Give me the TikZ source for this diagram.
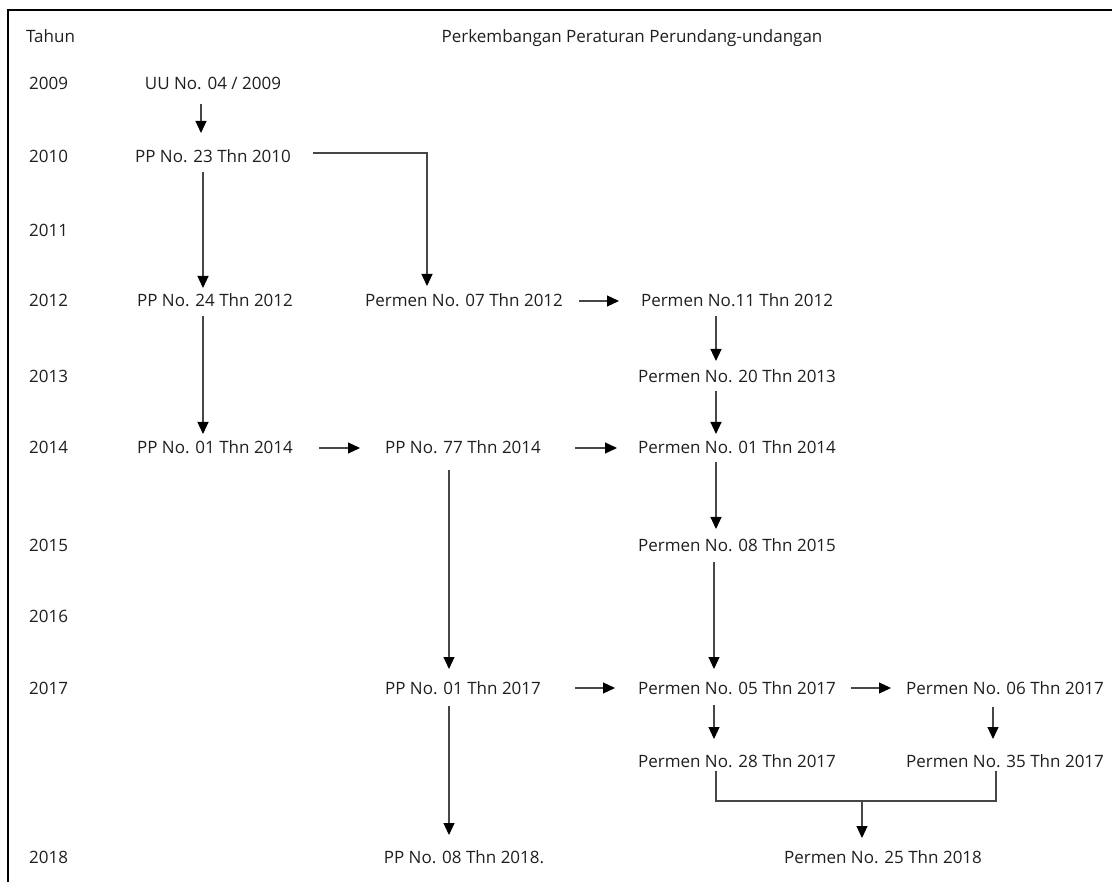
\documentclass[tikz,border=0pt]{standalone}
\usepackage{fontspec}
\setmainfont{Open Sans}
\usetikzlibrary{arrows.meta,calc}
\begin{document}
\begin{tikzpicture}[x=1pt,y=-1pt,
  txt/.style={inner sep=0pt,text height=12pt,text depth=0pt,text=black!88,font=\fontsize{17}{20}\selectfont},
  yr/.style={txt,anchor=west},
  ln/.style={draw=black!72,line width=1.2pt},
  arr/.style={ln,-{Triangle[length=12pt,width=11pt,color=black]}},
  frame/.style={draw=black,line width=1.8pt}]
\useasboundingbox (0,0) rectangle (1112,882);
\coordinate (fTL) at (8,10);
\coordinate (fTR) at (1112,10);
\coordinate (fBL) at (8,882);
\draw[frame] (fBL) -- (fTL) -- (fTR);

% header
\node[yr] (tahun) at (26,37) {Tahun};
\node[txt] (head) at (632,37) {Perkembangan Peraturan Perundang-undangan};

% years
\node[yr] (y09) at (29,84) {2009};
\node[yr] (y10) at (29,157) {2010};
\node[yr] (y11) at (29,231) {2011};
\node[yr] (y12) at (29,301) {2012};
\node[yr] (y13) at (29,377) {2013};
\node[yr] (y14) at (29,448) {2014};
\node[yr] (y15) at (29,545) {2015};
\node[yr] (y16) at (29,616) {2016};
\node[yr] (y17) at (29,688) {2017};
\node[yr] (y18) at (29,857) {2018};

% column 1
\node[txt] (uu) at (213,84) {UU No. 04 / 2009};
\node[txt] (pp23) at (213,157) {PP No. 23 Thn 2010};
\node[txt] (pp24) at (215,301) {PP No. 24 Thn 2012};
\node[txt] (pp14) at (215,448) {PP No. 01 Thn 2014};
% column 2
\node[txt] (p07) at (464,301) {Permen No. 07 Thn 2012};
\node[txt] (pp77) at (463,448) {PP No. 77 Thn 2014};
\node[txt] (pp17) at (463,688) {PP No. 01 Thn 2017};
\node[txt] (pp18) at (464,857) {PP No. 08 Thn 2018.};
% column 3
\node[txt] (p11) at (737,301) {Permen No.11 Thn 2012};
\node[txt] (p20) at (737,377) {Permen No. 20 Thn 2013};
\node[txt] (pm14) at (737,448) {Permen No. 01 Thn 2014};
\node[txt] (p08) at (737,545) {Permen No. 08 Thn 2015};
\node[txt] (p05) at (737,688) {Permen No. 05 Thn 2017};
\node[txt] (p28) at (737,761) {Permen No. 28 Thn 2017};
% column 4
\node[txt] (p06) at (1005,688) {Permen No. 06 Thn 2017};
\node[txt] (p35) at (1005,761) {Permen No. 35 Thn 2017};
% bottom
\node[txt] (p25) at (883,857) {Permen No. 25 Thn 2018};

% connectors
\draw[arr] ($(uu)+(-12,20)$) -- ($(pp23)+(-12,-24)$);
\draw[arr] ($(pp23)+(-10,15)$) -- ($(pp24)+(-12,-13)$);
\draw[arr] ($(pp23)+(100,-4)$) -| ($(p07)+(-37,-15)$);
\draw[arr] ($(pp24)+(-12,15)$) -- ($(pp14)+(-12,-14)$);
\draw[arr] ($(p07)+(115,0)$) -- ($(p11)+(-118,0)$);
\draw[arr] ($(p11)+(-21,15)$) -- ($(p20)+(-21,-16)$);
\draw[arr] ($(p20)+(-21,14)$) -- ($(pm14)+(-21,-14)$);
\draw[arr] ($(pp14)+(104,0)$) -- ($(pp77)+(-103,0)$);
\draw[arr] ($(pp77)+(112,0)$) -- ($(pm14)+(-120,0)$);
\draw[arr] ($(pp77)+(-14,22)$) -- ($(pp17)+(-14,-19)$);
\draw[arr] ($(pm14)+(-21,14)$) -- ($(p08)+(-21,-16)$);
\draw[arr] ($(p08)+(-23,17)$) -- ($(p05)+(-23,-19)$);
\draw[arr] ($(pp17)+(112,0)$) -- ($(p05)+(-122,0)$);
\draw[arr] ($(p05)+(114,0)$) -- ($(p06)+(-114,0)$);
\draw[arr] ($(p05)+(-23,17)$) -- ($(p28)+(-23,-22)$);
\draw[arr] ($(p06)+(-12,19)$) -- ($(p35)+(-12,-22)$);
\draw[arr] ($(pp17)+(-14,18)$) -- ($(pp18)+(-15,-22)$);
\coordinate (join) at ($(p25)+(-21,-56)$);
\draw[ln] ($(p28)+(-21,10)$) |- ($(p35)+(-9,40)$) -- ($(p35)+(-9,10)$);
\draw[arr] (join) -- ($(p25)+(-21,-19)$);
\end{tikzpicture}
\end{document}
